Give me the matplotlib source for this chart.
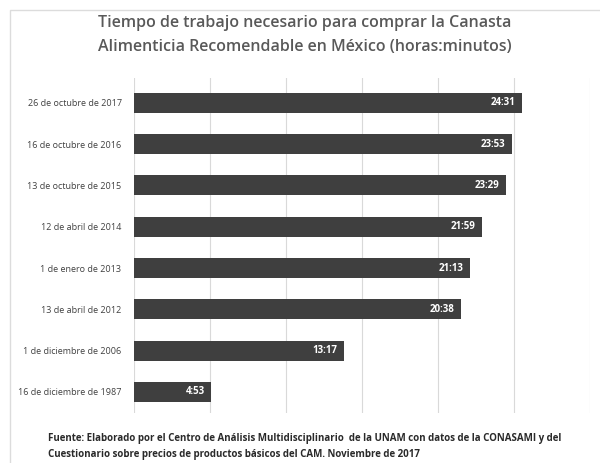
import matplotlib
matplotlib.use("Agg")
import matplotlib.pyplot as plt
from matplotlib.patches import Rectangle

fechas = [
    "26 de octubre de 2017",
    "16 de octubre de 2016",
    "13 de octubre de 2015",
    "12 de abril de 2014",
    "1 de enero de 2013",
    "13 de abril de 2012",
    "1 de diciembre de 2006",
    "16 de diciembre de 1987",
]
tiempos = ["24:31", "23:53", "23:29", "21:59", "21:13", "20:38", "13:17", "4:53"]


def a_horas(t):
    h, m = t.split(":")
    return int(h) + int(m) / 60.0


horas = [a_horas(t) for t in tiempos]

plt.rcParams["font.family"] = ["Open Sans", "DejaVu Sans"]

fig = plt.figure(figsize=(6, 4.63), dpi=100)
W, H = 600, 463

# light frame around the chart
fig.patches.append(Rectangle((10 / W, -0.05), 1.2, 1 - 10 / H + 0.05,
                             transform=fig.transFigure, fill=False,
                             edgecolor="#dcdcdc", linewidth=1.0))

left, right = 134 / W, 590 / W
top, bottom = 1 - 78 / H, 1 - 413 / H
ax = fig.add_axes([left, bottom, right - left, top - bottom])

y = list(range(len(fechas)))
ax.barh(y, horas, height=0.48, color="#3f3f3f", zorder=3)

for yi, v, t in zip(y, horas, tiempos):
    ax.text(v - 0.42, yi, t, ha="right", va="center", color="white",
            fontsize=7, fontweight="bold", zorder=4)

# time axis in Excel day fractions: gridline every 0.2 day = 4.8 h
ticks = [4.8 * i for i in range(7)]
ax.set_xlim(0, 28.8)
ax.set_xticks(ticks)
ax.set_xticklabels([])
ax.tick_params(axis="x", length=0)
ax.xaxis.grid(True, color="#d9d9d9", linewidth=0.8, zorder=0)

ax.set_ylim(7.51, -0.6)
ax.set_yticks(y)
ax.set_yticklabels(fechas, fontsize=6.5, color="#404040")
ax.tick_params(axis="y", length=0, pad=9)

for s in ax.spines.values():
    s.set_visible(False)

fig.text(305 / W, 1 - 23 / H,
         "Tiempo de trabajo necesario para comprar la Canasta",
         ha="center", va="center", fontsize=11.5, color="#595959",
         fontweight="semibold")
fig.text(305 / W, 1 - 47 / H,
         "Alimenticia Recomendable en México (horas:minutos)",
         ha="center", va="center", fontsize=11.5, color="#595959",
         fontweight="semibold")

fig.text(48 / W, 1 - 438 / H,
         "Fuente: Elaborado por el Centro de Análisis Multidisciplinario  de la UNAM con datos de la CONASAMI y del",
         ha="left", va="center", fontsize=7.0, color="#2a2a2a",
         fontweight="bold")
fig.text(48 / W, 1 - 454 / H,
         "Cuestionario sobre precios de productos básicos del CAM. Noviembre de 2017",
         ha="left", va="center", fontsize=7.0, color="#2a2a2a",
         fontweight="bold")

fig.savefig("out.png", dpi=100, facecolor="white")
